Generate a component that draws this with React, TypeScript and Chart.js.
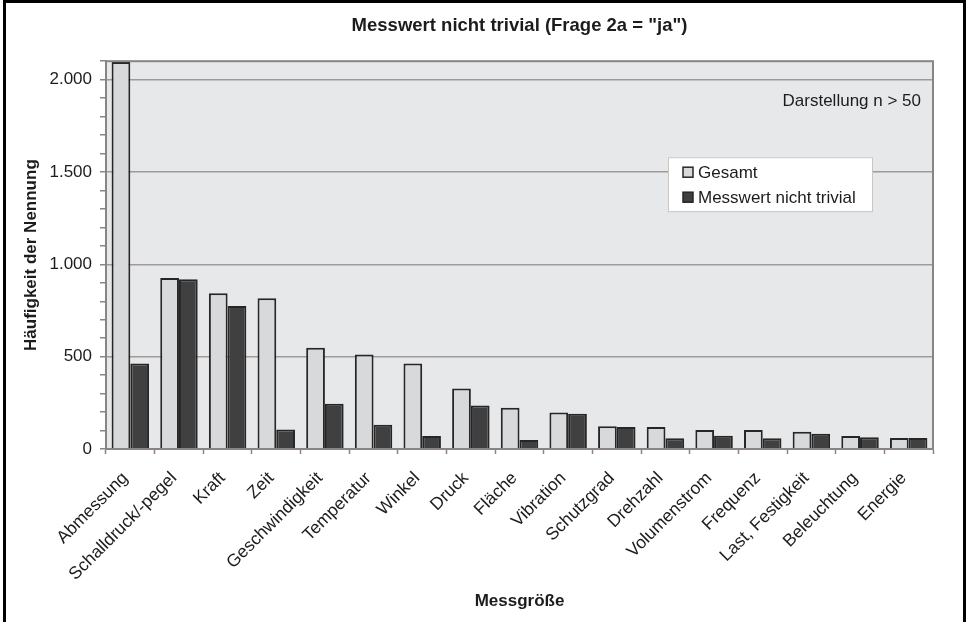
import React, { useEffect, useRef } from "react";
import { Chart, registerables } from "chart.js";

Chart.register(...registerables);

const categories = [
  "Abmessung", "Schalldruck/-pegel", "Kraft", "Zeit", "Geschwindigkeit", "Temperatur",
  "Winkel", "Druck", "Fläche", "Vibration", "Schutzgrad", "Drehzahl", "Volumenstrom",
  "Frequenz", "Last, Festigkeit", "Beleuchtung", "Energie",
];
const gesamt = [2095, 926, 843, 816, 548, 512, 463, 328, 223, 198, 123, 119, 103, 103, 94, 70, 59];
const messwertNichtTrivial = [463, 919, 775, 106, 245, 131, 70, 236, 49, 191, 119, 58, 72, 58, 83, 63, 59];
const seriesLabels = ["Gesamt", "Messwert nicht trivial"];
const titleText = 'Messwert nicht trivial (Frage 2a = "ja")';
const yTitle = "Häufigkeit der Nennung";
const xTitle = "Messgröße";
const noteText = "Darstellung n > 50";
const yMax = 2100;
const yMajor = 500;
const yMinor = 100;

const FONT = "'Liberation Sans', Arial, Helvetica, sans-serif";
const TEXT = "#1c1c1c";
const AXIS = "#8a8484";
const GRID = "#9f9a98";
const PLOT_BG = "#e7e8ea";
const LIGHT = "#d8d9db";
const DARK = "#404040";
const EDGE = "#262626";

function fmt(v: number): string {
  if (v >= 1000) {
    const th = Math.floor(v / 1000);
    const rest = String(v % 1000).padStart(3, "0");
    return th + "." + rest;
  }
  return String(v);
}

const decorPlugin = {
  id: "decor",
  beforeDraw(chart: any) {
    const { ctx, chartArea: a } = chart;
    ctx.save();
    ctx.fillStyle = "#ffffff";
    ctx.fillRect(0, 0, chart.width, chart.height);
    ctx.fillStyle = PLOT_BG;
    ctx.fillRect(a.left, a.top, a.right - a.left, a.bottom - a.top);
    ctx.restore();
  },
  afterDatasetsDraw(chart: any) {
    const { ctx, chartArea: a } = chart;
    ctx.save();
    ctx.strokeStyle = AXIS;
    ctx.lineWidth = 2;
    ctx.strokeRect(a.left, a.top, a.right - a.left, a.bottom - a.top);
    // note text
    ctx.fillStyle = TEXT;
    ctx.font = `17px ${FONT}`;
    ctx.textAlign = "right";
    ctx.textBaseline = "middle";
    ctx.fillText(noteText, a.right - 12, a.top + 40);
    // legend box
    const bx = a.left + 562;
    const by = a.top + 96;
    const bw = 204;
    const bh = 54;
    ctx.fillStyle = "#ffffff";
    ctx.fillRect(bx, by, bw, bh);
    ctx.strokeStyle = "#c9c6c4";
    ctx.lineWidth = 1;
    ctx.strokeRect(bx + 0.5, by + 0.5, bw, bh);
    chart.data.datasets.forEach((ds: any, i: number) => {
      const cy = by + 15 + i * 25;
      ctx.fillStyle = ds.backgroundColor;
      ctx.fillRect(bx + 15, cy - 5, 10, 10);
      ctx.strokeStyle = EDGE;
      ctx.lineWidth = 1.5;
      ctx.strokeRect(bx + 15, cy - 5, 10, 10);
      ctx.fillStyle = TEXT;
      ctx.font = `17px ${FONT}`;
      ctx.textAlign = "left";
      ctx.textBaseline = "middle";
      ctx.fillText(ds.label, bx + 30, cy + 1);
    });
    ctx.restore();
  },
};

export default function App() {
  const ref = useRef<HTMLCanvasElement | null>(null);
  useEffect(() => {
    if (!ref.current) return;
    const chart = new Chart(ref.current, {
      type: "bar",
      data: {
        labels: categories,
        datasets: [
          {
            label: seriesLabels[0],
            data: gesamt,
            backgroundColor: LIGHT,
            borderColor: EDGE,
            borderWidth: 2,
            categoryPercentage: 0.77,
            barPercentage: 1.0,
          },
          {
            label: seriesLabels[1],
            data: messwertNichtTrivial,
            backgroundColor: DARK,
            borderColor: EDGE,
            borderWidth: 2,
            categoryPercentage: 0.77,
            barPercentage: 1.0,
          },
        ],
      },
      options: {
        animation: false,
        responsive: false,
        devicePixelRatio: 1,
        layout: { padding: { left: 0, right: 33, top: 0, bottom: 0 } },
        plugins: {
          legend: { display: false },
          tooltip: { enabled: false },
          title: {
            display: true,
            text: titleText,
            fullSize: false,
            color: TEXT,
            font: { family: FONT, size: 18.5, weight: "bold" },
            padding: { top: 15, bottom: 24 },
          },
        },
        scales: {
          x: {
            offset: true,
            grid: {
              display: true,
              drawOnChartArea: false,
              tickLength: 5,
              tickColor: AXIS,
              tickWidth: 1.5,
              offset: true,
            },
            border: { color: AXIS, width: 2 },
            ticks: {
              autoSkip: false,
              maxRotation: 45,
              minRotation: 45,
              color: TEXT,
              padding: 14,
              labelOffset: -5,
              font: { family: FONT, size: 17.5 },
            },
            title: {
              display: true,
              text: xTitle,
              color: TEXT,
              font: { family: FONT, size: 17, weight: "bold" },
              padding: { top: 0, bottom: 10 },
            },
            afterFit(scale: any) {
              scale.height = 173;
            },
          },
          y: {
            min: 0,
            max: yMax,
            grid: {
              color: (c: any) =>
                c.tick && c.tick.value > 0 && c.tick.value < yMax && c.tick.value % yMajor === 0
                  ? GRID
                  : "rgba(0,0,0,0)",
              lineWidth: 1.5,
              tickLength: 6,
              tickColor: AXIS,
              tickWidth: 1.5,
            },
            border: { color: AXIS, width: 2 },
            ticks: {
              stepSize: yMinor,
              autoSkip: false,
              color: TEXT,
              padding: 8,
              font: { family: FONT, size: 17 },
              callback: (v: any) => (Number(v) % yMajor === 0 ? fmt(Number(v)) : ""),
            },
            title: {
              display: true,
              text: yTitle,
              color: TEXT,
              font: { family: FONT, size: 17, weight: "bold" },
              padding: { top: 21, bottom: 0 },
            },
            afterFit(scale: any) {
              scale.width = 106;
            },
          },
        },
      },
      plugins: [decorPlugin],
    } as any);
    return () => chart.destroy();
  }, []);

  return (
    <div style={{ position: "fixed", left: 0, top: 0, width: 966, height: 622, background: "#fff", overflow: "hidden" }}>
      <canvas ref={ref} width={966} height={622} style={{ position: "absolute", left: 0, top: 0, width: 966, height: 622 }} />
      <div
        style={{
          position: "absolute",
          left: 3,
          top: 0,
          width: 957,
          height: 640,
          border: "3px solid #000",
          pointerEvents: "none",
        }}
      />
    </div>
  );
}
